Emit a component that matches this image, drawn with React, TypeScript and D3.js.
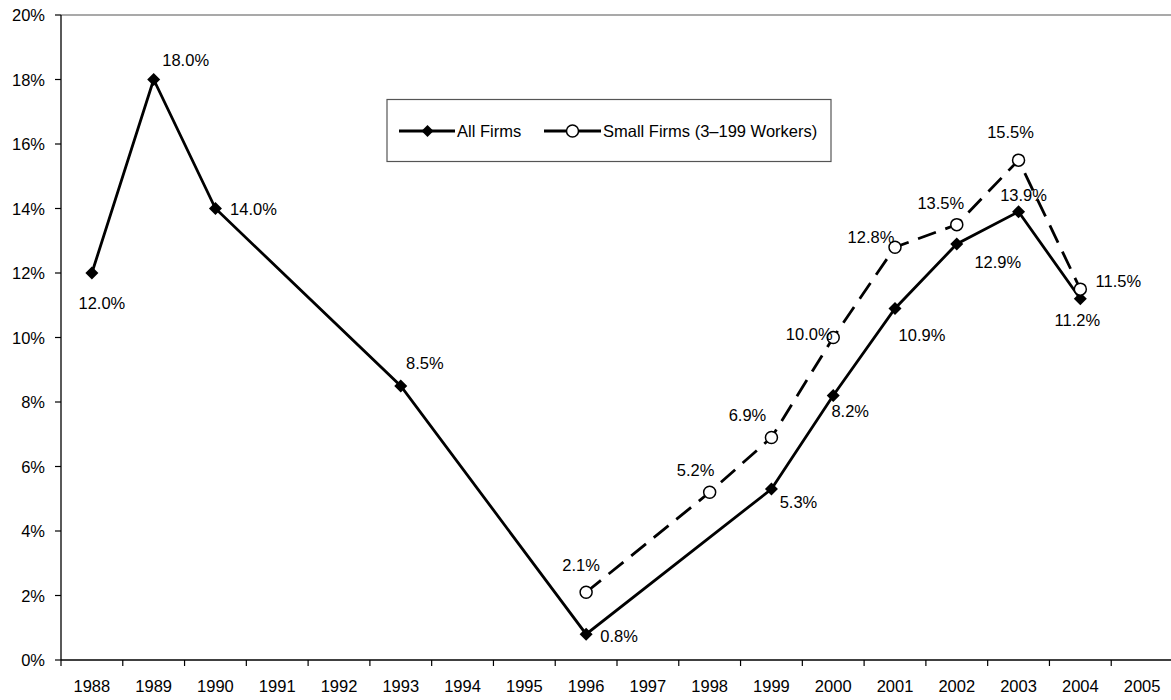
import React from 'react';
import * as d3 from 'd3';

const YEARS = [
    "1988", "1989", "1990", "1991", "1992", "1993", "1994", "1995", "1996",
    "1997", "1998", "1999", "2000", "2001", "2002", "2003", "2004", "2005"
];

// null = no survey that year (line is drawn straight across)
const ALL_FIRMS: (number | null)[] = [
    12.0, 18.0, 14.0, null, null, 8.5, null, null, 0.8,
    null, null, 5.3, 8.2, 10.9, 12.9, 13.9, 11.2, null
];

const SMALL_FIRMS: (number | null)[] = [
    null, null, null, null, null, null, null, null, 2.1,
    null, 5.2, 6.9, 10.0, 12.8, 13.5, 15.5, 11.5, null
];

const Y_TICKS = [0, 2, 4, 6, 8, 10, 12, 14, 16, 18, 20];

// label nudges relative to the marker (hand placed, like the original)
const ALL_LABEL_OFFSET: Record<string, [number, number]> = {
    "1988": [10, 30], "1989": [32, -20], "1990": [38, 0], "1993": [24, -23],
    "1996": [33, 2], "1999": [27, 13], "2000": [17, 15], "2001": [27, 27],
    "2002": [41, 18], "2003": [5, -17], "2004": [-3, 21]
};
const SMALL_LABEL_OFFSET: Record<string, [number, number]> = {
    "1996": [-5, -27], "1998": [-14, -22], "1999": [-24, -22], "2000": [-24, -4],
    "2001": [-24, -10], "2002": [-16, -22], "2003": [-8, -28], "2004": [38, -8]
};

const FONT = '"Liberation Sans", Arial, Helvetica, sans-serif';

const App: React.FC = () => {
    const width = 1171;
    const height = 700;
    const margin = { top: 15, left: 61, bottom: 40 };
    const plotRight = 1173;

    const xScale = d3.scaleBand()
        .domain(YEARS)
        .range([margin.left, plotRight]);
    const cx = (yr: string) => (xScale(yr) || 0) + xScale.bandwidth() / 2;

    const yScale = d3.scaleLinear()
        .domain([0, 20])
        .range([height - margin.bottom, margin.top]);

    const toPoints = (vals: (number | null)[]) =>
        YEARS.map((yr, i) => ({ yr, v: vals[i] }))
            .filter(d => d.v !== null) as { yr: string; v: number }[];

    const allPts = toPoints(ALL_FIRMS);
    const smallPts = toPoints(SMALL_FIRMS);

    const line = d3.line<{ yr: string; v: number }>()
        .x(d => cx(d.yr))
        .y(d => yScale(d.v));

    const diamond = (x: number, y: number, r = 6.5) =>
        `M${x},${y - r}L${x + r},${y}L${x},${y + r}L${x - r},${y}Z`;

    const y0 = yScale(0);

    return (
        <div style={{ position: 'absolute', left: 0, top: 0 }}>
            <svg width={width} height={height} style={{ display: 'block' }} fontFamily={FONT}>
                <rect width={width} height={height} fill="#fff" />

                {/* top border of plot area */}
                <line x1={margin.left} x2={plotRight} y1={yScale(20)} y2={yScale(20)} stroke="#8c8c8c" strokeWidth={1.3} />

                {/* y axis */}
                <line x1={margin.left} x2={margin.left} y1={yScale(20)} y2={y0} stroke="#000" strokeWidth={1.3} />
                {Y_TICKS.map(t => (
                    <g key={t}>
                        <line x1={margin.left - 6} x2={margin.left} y1={yScale(t)} y2={yScale(t)} stroke="#000" strokeWidth={1.2} />
                        <text x={45} y={yScale(t)} textAnchor="end" dominantBaseline="central" fontSize="16.5px" fill="#000">
                            {t}%
                        </text>
                    </g>
                ))}

                {/* x axis */}
                <line x1={margin.left} x2={plotRight} y1={y0} y2={y0} stroke="#000" strokeWidth={1.3} />
                {YEARS.map(yr => (
                    <g key={yr}>
                        <line x1={xScale(yr)} x2={xScale(yr)} y1={y0} y2={y0 + 6} stroke="#000" strokeWidth={1.2} />
                        <text x={cx(yr)} y={692} textAnchor="middle" fontSize="16.5px" fill="#000">{yr}</text>
                    </g>
                ))}

                {/* series */}
                <path d={line(smallPts) || ''} fill="none" stroke="#000" strokeWidth={2.8} strokeDasharray="19,10" />
                <path d={line(allPts) || ''} fill="none" stroke="#000" strokeWidth={2.8} />

                {allPts.map(d => (
                    <path key={'a' + d.yr} d={diamond(cx(d.yr), yScale(d.v))} fill="#000" />
                ))}
                {smallPts.map(d => (
                    <circle key={'s' + d.yr} cx={cx(d.yr)} cy={yScale(d.v)} r={6} fill="#fff" stroke="#000" strokeWidth={1.5} />
                ))}

                {/* data labels */}
                {smallPts.map(d => {
                    const [dx, dy] = SMALL_LABEL_OFFSET[d.yr] || [0, -20];
                    return (
                        <text key={'sl' + d.yr} x={cx(d.yr) + dx} y={yScale(d.v) + dy} textAnchor="middle"
                            dominantBaseline="central" fontSize="16.5px" fill="#000">
                            {d.v.toFixed(1)}%
                        </text>
                    );
                })}
                {allPts.map(d => {
                    const [dx, dy] = ALL_LABEL_OFFSET[d.yr] || [0, 20];
                    return (
                        <text key={'al' + d.yr} x={cx(d.yr) + dx} y={yScale(d.v) + dy} textAnchor="middle"
                            dominantBaseline="central" fontSize="16.5px" fill="#000">
                            {d.v.toFixed(1)}%
                        </text>
                    );
                })}

                {/* legend */}
                <g>
                    <rect x={387} y={99.5} width={444} height={62} fill="#fff" stroke="#555" strokeWidth={1.2} />
                    <line x1={399} x2={455} y1={131} y2={131} stroke="#000" strokeWidth={2.8} />
                    <path d={diamond(427.5, 131, 6)} fill="#000" />
                    <text x={457} y={131} dominantBaseline="central" fontSize="16.5px" fill="#000">All Firms</text>
                    <line x1={544} x2={601} y1={131} y2={131} stroke="#000" strokeWidth={3.2} />
                    <circle cx={572.5} cy={131} r={6} fill="#fff" stroke="#000" strokeWidth={1.5} />
                    <text x={603} y={131} dominantBaseline="central" fontSize="16.5px" fill="#000">Small Firms (3–199 Workers)</text>
                </g>
            </svg>
        </div>
    );
};

export default App;
